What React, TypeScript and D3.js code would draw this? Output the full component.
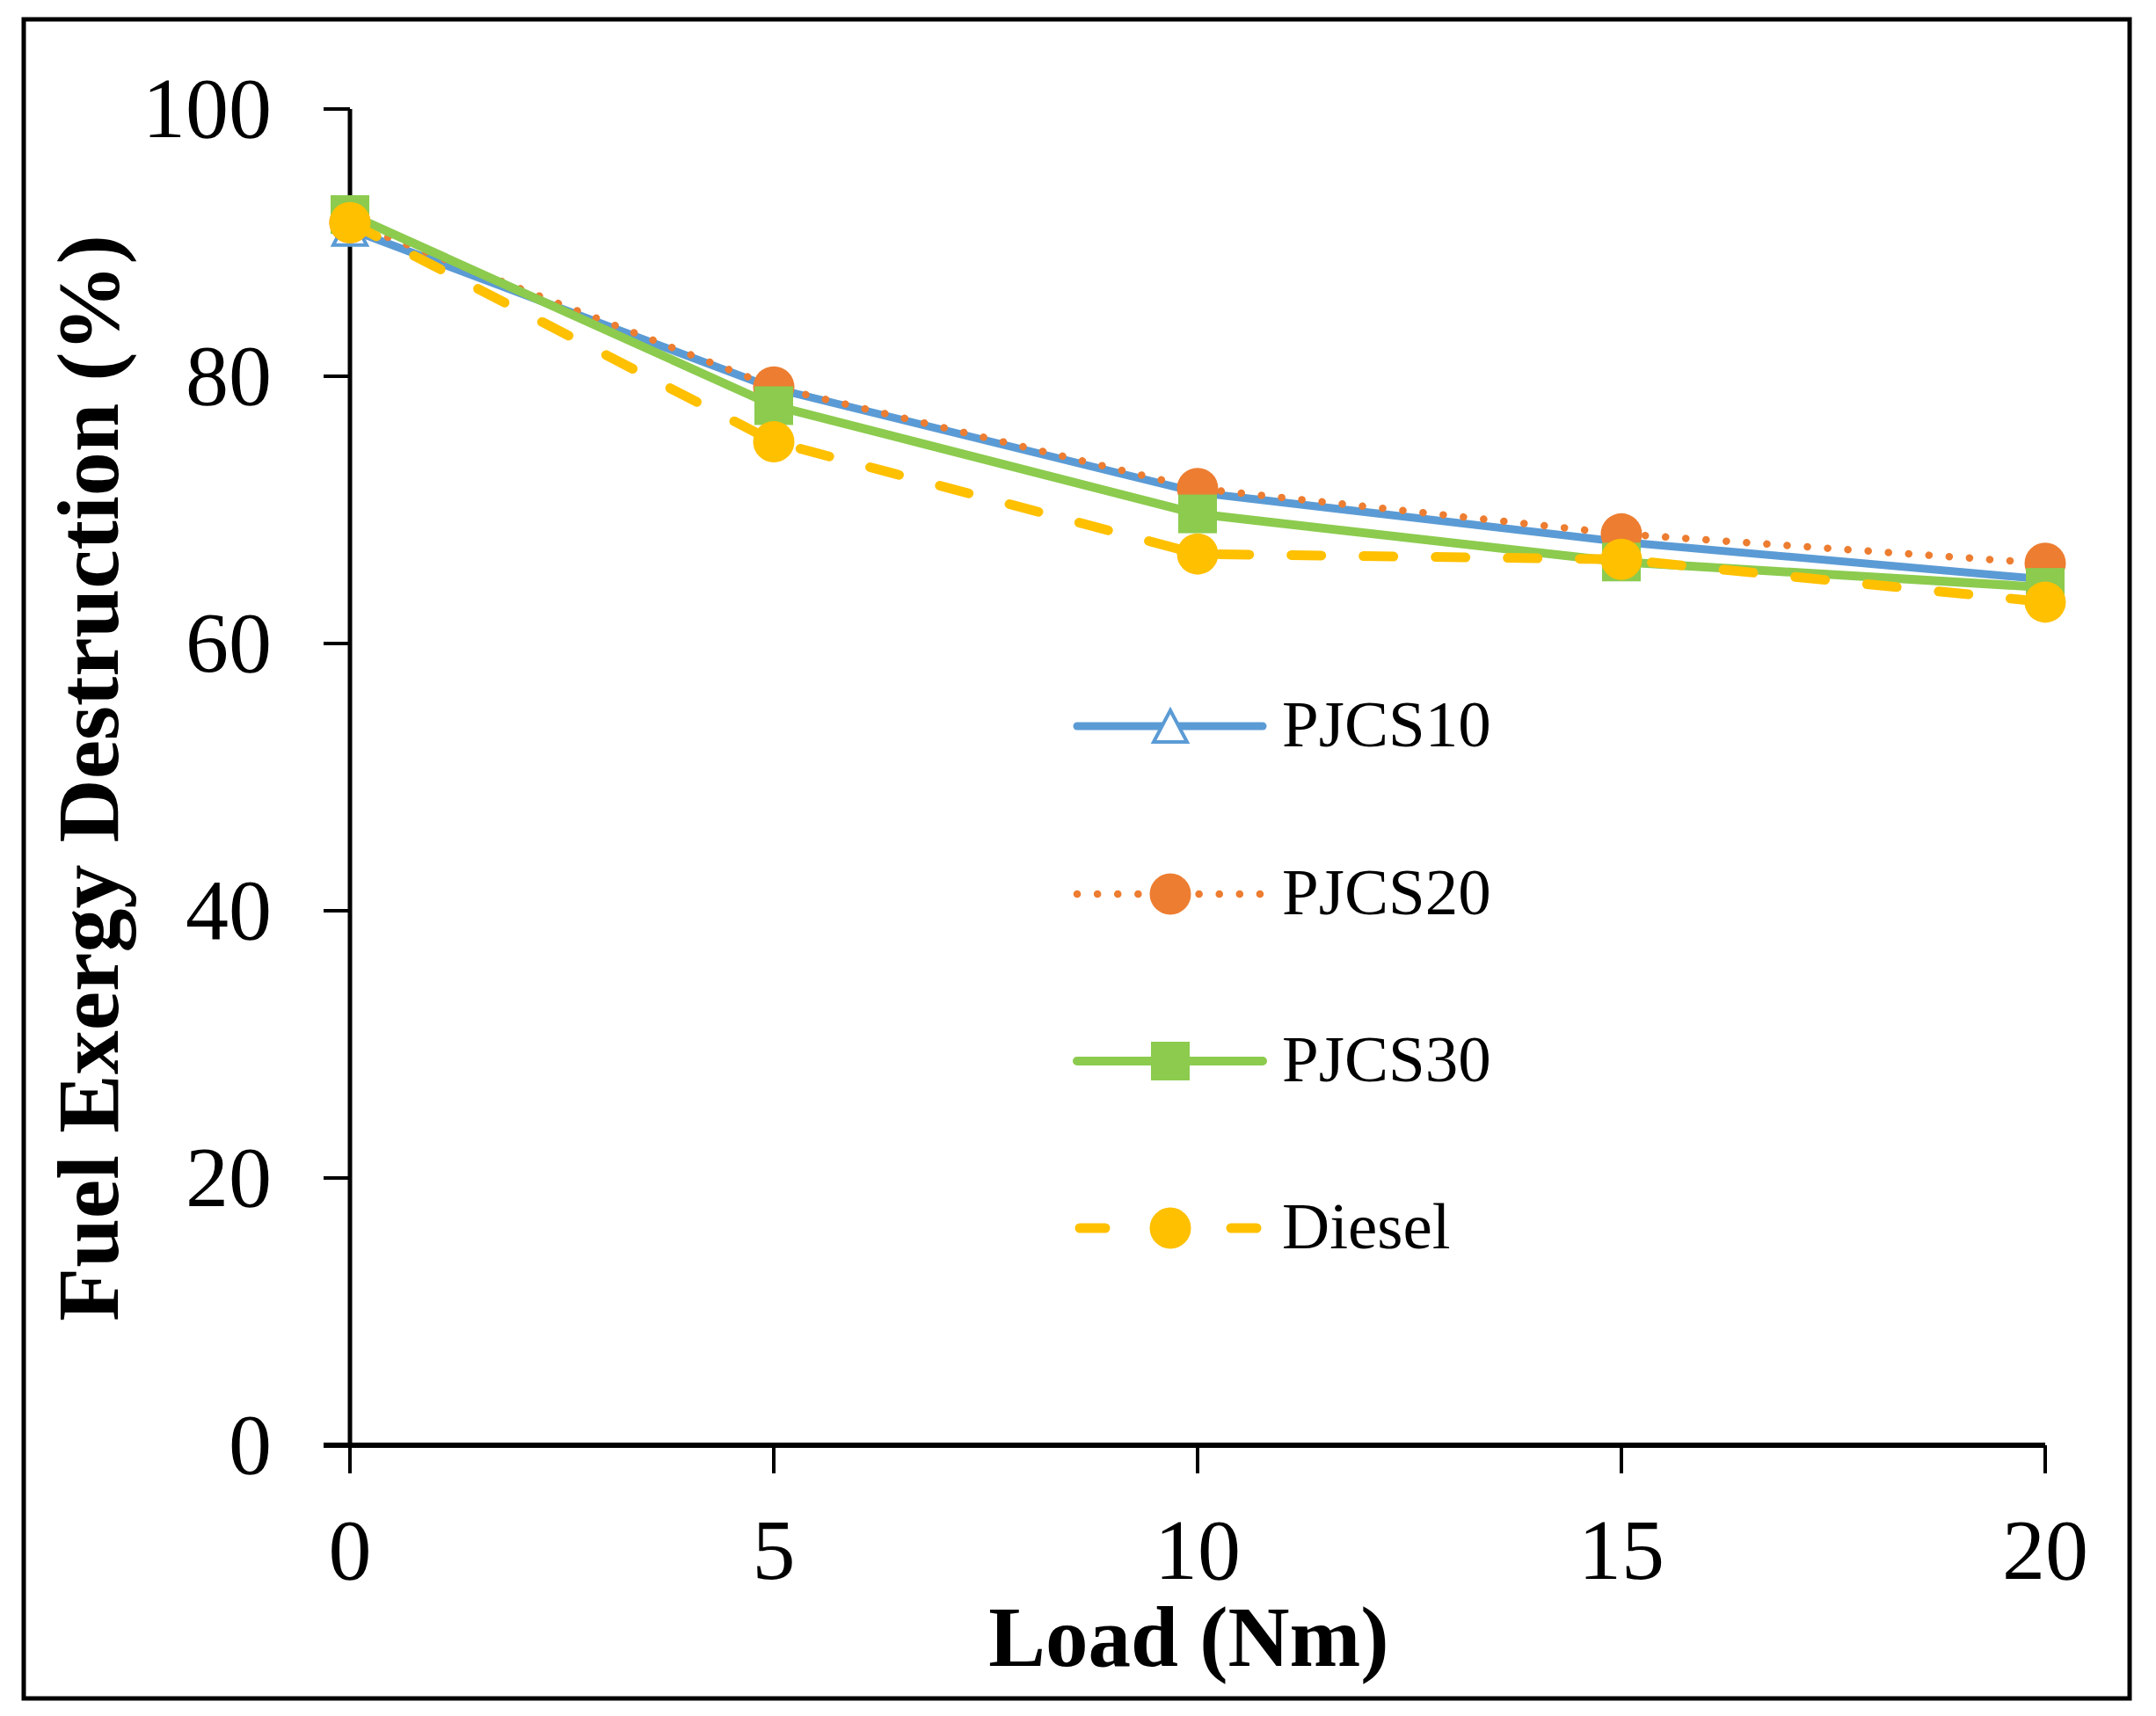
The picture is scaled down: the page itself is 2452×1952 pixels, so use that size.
import React from "react";
import * as d3 from "d3";

const loads = [0, 5, 10, 15, 20];
const pjcs10 = [91.0, 79.1, 71.3, 67.6, 64.8];
const pjcs20 = [91.5, 79.2, 71.6, 68.2, 66.0];
const pjcs30 = [92.1, 77.8, 69.7, 66.1, 64.2];
const diesel = [91.5, 75.1, 66.7, 66.3, 63.1];
const seriesNames = ["PJCS10", "PJCS20", "PJCS30", "Diesel"];
const yTicks = [0, 20, 40, 60, 80, 100];
const xTicks = [0, 5, 10, 15, 20];

const W = 2452;
const H = 1952;
const FONT = "'Liberation Serif', 'Times New Roman', serif";

type Style = {
  color: string;
  width: number;
  dash?: string;
  cap: "round" | "butt";
  marker: "triangle" | "circle" | "square";
  legendDash?: string;
};

const styles: Style[] = [
  { color: "#5B9BD5", width: 9, cap: "round", marker: "triangle" },
  { color: "#ED7D31", width: 8.5, dash: "0.1 23", cap: "round", marker: "circle", legendDash: "0.1 23" },
  { color: "#8CCB4E", width: 10, cap: "round", marker: "square" },
  { color: "#FFC000", width: 11, dash: "34 48", cap: "round", marker: "circle", legendDash: "29 143" },
];

const allSeries = [pjcs10, pjcs20, pjcs30, diesel];

function Marker({ kind, x, y, color }: { kind: string; x: number; y: number; color: string }) {
  if (kind === "circle") return <circle cx={x} cy={y} r={23.5} fill={color} />;
  if (kind === "square") return <rect x={x - 22} y={y - 22} width={44} height={44} fill={color} />;
  const w = 38;
  const h = 36;
  return (
    <path
      d={`M${x},${y - h / 2}L${x + w / 2},${y + h / 2}L${x - w / 2},${y + h / 2}Z`}
      fill="#fff"
      stroke={color}
      strokeWidth={4}
      strokeLinejoin="miter"
    />
  );
}

export default function App() {
  const x = d3.scaleLinear().domain([0, 20]).range([398, 2326]);
  const y = d3.scaleLinear().domain([0, 100]).range([1644, 124]);
  const line = d3
    .line<number>()
    .x((_, i) => x(loads[i]))
    .y((d) => y(d));

  const legendX0 = 1225;
  const legendX1 = 1436;
  const legendMid = 1331;
  const legendYs = [826, 1017, 1207, 1397];

  return (
    <svg
      width={W}
      height={H}
      viewBox={`0 0 ${W} ${H}`}
      style={{ position: "absolute", left: 0, top: 0, background: "#fff" }}
    >
      <rect x={0} y={0} width={W} height={H} fill="#fff" />
      <rect x={27} y={22} width={2395} height={1910} fill="none" stroke="#000" strokeWidth={5} />

      {/* y axis */}
      <line x1={x(0)} x2={x(0)} y1={y(0)} y2={y(100)} stroke="#000" strokeWidth={5} />
      {yTicks.map((t) => (
        <g key={"y" + t}>
          <line x1={x(0) - 30} x2={x(0)} y1={y(t)} y2={y(t)} stroke="#000" strokeWidth={4} />
          <text
            x={309}
            y={y(t)}
            dy="0.33em"
            textAnchor="end"
            fontFamily={FONT}
            fontSize={98}
            fill="#000"
          >
            {t}
          </text>
        </g>
      ))}

      {/* x axis */}
      <line x1={x(0) - 30} x2={x(20)} y1={y(0)} y2={y(0)} stroke="#000" strokeWidth={6} />
      {xTicks.map((t) => (
        <g key={"x" + t}>
          <line x1={x(t)} x2={x(t)} y1={y(0)} y2={y(0) + 32} stroke="#000" strokeWidth={4} />
          <text x={x(t)} y={1796} textAnchor="middle" fontFamily={FONT} fontSize={98} fill="#000">
            {t}
          </text>
        </g>
      ))}

      {/* axis titles */}
      <text
        x={1352}
        y={1895}
        textAnchor="middle"
        fontFamily={FONT}
        fontWeight="bold"
        fontSize={97}
        fill="#000"
      >
        Load (Nm)
      </text>
      <text
        transform="translate(134,885) rotate(-90)"
        textAnchor="middle"
        fontFamily={FONT}
        fontWeight="bold"
        fontSize={100}
        fill="#000"
      >
        Fuel Exergy Destruction (%)
      </text>

      {/* series */}
      {allSeries.map((vals, si) => {
        const s = styles[si];
        return (
          <g key={"s" + si}>
            <path
              d={line(vals) || ""}
              fill="none"
              stroke={s.color}
              strokeWidth={s.width}
              strokeDasharray={s.dash}
              strokeLinecap={s.cap}
              strokeLinejoin="round"
            />
            {vals.map((v, i) => (
              <Marker key={i} kind={s.marker} x={x(loads[i])} y={y(v)} color={s.color} />
            ))}
          </g>
        );
      })}

      {/* legend */}
      {seriesNames.map((name, si) => {
        const s = styles[si];
        const ly = legendYs[si];
        const isDiesel = si === 3;
        return (
          <g key={"l" + si}>
            <line
              x1={isDiesel ? legendX0 + 3 : legendX0}
              x2={legendX1}
              y1={ly}
              y2={ly}
              stroke={s.color}
              strokeWidth={s.width}
              strokeDasharray={s.legendDash}
              strokeLinecap={s.cap}
            />
            <Marker kind={s.marker} x={legendMid} y={ly} color={s.color} />
            <text x={1458} y={ly + 23} fontFamily={FONT} fontSize={75} fill="#000">
              {name}
            </text>
          </g>
        );
      })}
    </svg>
  );
}
